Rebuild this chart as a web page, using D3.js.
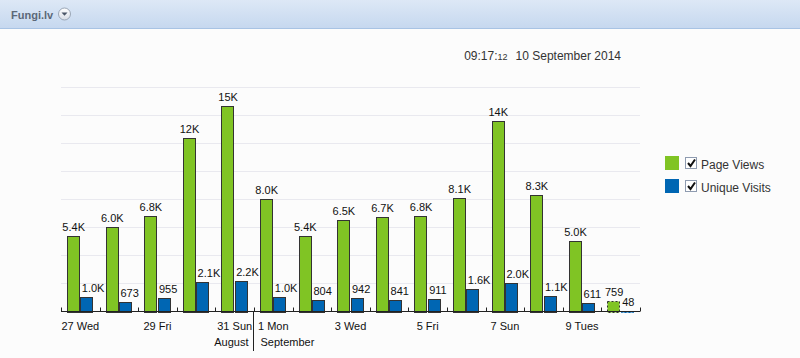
<!DOCTYPE html>
<html>
<head>
<meta charset="utf-8">
<script src="https://cdn.jsdelivr.net/npm/d3@7"></script>
<style>
  html, body { margin: 0; padding: 0; background: #fcfcfc; }
  svg { display: block; font-family: Arial, "Liberation Sans", sans-serif; }
</style>
</head>
<body>
<svg id="chart" width="800" height="358"></svg>
<script>
// ---- data ----
const categories = ["27 Wed","28 Thu","29 Fri","30 Sat","31 Sun","1 Mon","2 Tue","3 Wed","4 Thu","5 Fri","6 Sat","7 Sun","8 Mon","9 Tues","10 Wed"];
const shownLabels = ["27 Wed","29 Fri","31 Sun","1 Mon","3 Wed","5 Fri","7 Sun","9 Tues"];
const pageViews = [5400, 6000, 6800, 12400, 14650, 8000, 5400, 6500, 6700, 6800, 8100, 13550, 8300, 5000, 759];
const uniqueVisits = [1000, 673, 955, 2100, 2200, 1000, 804, 942, 841, 911, 1600, 2000, 1100, 611, 48];
const seriesNames = ["Page Views", "Unique Visits"];
const seriesColors = ["#80c424", "#0066b3"];
const months = ["August", "September"];
const monthSplitAfter = "31 Sun";
const partialDay = "10 Wed";
const yMax = 16000, yStep = 2000;

const svg = d3.select("#chart");

// ---- header ----
const defs = svg.append("defs");
const hg = defs.append("linearGradient").attr("id","hdr").attr("x1",0).attr("y1",0).attr("x2",0).attr("y2",1);
hg.append("stop").attr("offset","0%").attr("stop-color","#dde8f6");
hg.append("stop").attr("offset","100%").attr("stop-color","#c6d8ef");
const cg = defs.append("linearGradient").attr("id","btn").attr("x1",0).attr("y1",0).attr("x2",0).attr("y2",1);
cg.append("stop").attr("offset","0%").attr("stop-color","#ffffff");
cg.append("stop").attr("offset","100%").attr("stop-color","#d8dde6");

svg.append("rect").attr("x",0).attr("y",0).attr("width",800).attr("height",28).attr("fill","url(#hdr)");
svg.append("line").attr("x1",0).attr("x2",800).attr("y1",28.5).attr("y2",28.5).attr("stroke","#a8c3e4");
svg.append("text").attr("x",11).attr("y",18.5).attr("font-size",11).attr("font-weight","bold")
  .attr("fill","#5b6878").text("Fungi.lv");
svg.append("circle").attr("cx",64.5).attr("cy",14).attr("r",6).attr("fill","url(#btn)").attr("stroke","#9aa6b6");
svg.append("path").attr("d","M61.5,12.5 L67.5,12.5 L64.5,15.8 Z").attr("fill","#4a5566");

// ---- title / timestamp ----
const title = svg.append("text").attr("x",621).attr("y",60).attr("text-anchor","end")
  .attr("font-size",12).attr("fill","#333");
title.append("tspan").text("09:17:");
title.append("tspan").attr("font-size",9).text("12");
title.append("tspan").attr("dx",8).text("10 September 2014");

// ---- scales ----
const plot = {left: 61, right: 640, top: 87, bottom: 311.5};
const x = d3.scaleBand().domain(categories).range([plot.left, plot.right]).padding(0);
const x1 = d3.scaleBand().domain(seriesNames).range([0, x.bandwidth()]).paddingInner(0).paddingOuter(0.46);
const y = d3.scaleLinear().domain([0, yMax]).range([plot.bottom, plot.top]);

// gridlines
const gridVals = d3.range(yStep, yMax + 1, yStep);
svg.append("g").selectAll("line").data(gridVals).join("line")
  .attr("x1", plot.left).attr("x2", plot.right)
  .attr("y1", d => Math.round(y(d)) + 0.5).attr("y2", d => Math.round(y(d)) + 0.5)
  .attr("stroke", "#e9e9ef").attr("stroke-width", 1);

// bars
const fmt = v => v < 1000 ? String(v) : (v >= 10000 ? Math.round(v/1000) + "K" : (v/1000).toFixed(1) + "K");
const rows = categories.map((c, i) => ({c, vals: [pageViews[i], uniqueVisits[i]]}));

const gBars = svg.append("g");
rows.forEach(r => {
  const partial = r.c === partialDay;
  r.vals.forEach((v, si) => {
    const bx = x(r.c) + x1(seriesNames[si]);
    const bw = x1.bandwidth();
    const top = y(v);
    gBars.append("rect")
      .attr("x", Math.round(bx) + 0.5).attr("y", Math.round(top) + 0.5)
      .attr("width", Math.round(bw) - 1).attr("height", Math.max(0, Math.round(plot.bottom) - Math.round(top)))
      .attr("fill", seriesColors[si])
      .attr("stroke", partial && si === 1 ? seriesColors[1] : "#333")
      .attr("stroke-width", 1)
      .attr("stroke-dasharray", partial ? "2,2" : null);
    const lbl = gBars.append("text")
      .attr("y", top - 5).attr("font-size", 11).attr("fill", "#111").text(fmt(v));
    if (si === 0) lbl.attr("x", bx + bw / 2).attr("text-anchor", "middle");
    else lbl.attr("x", bx + 1.5).attr("text-anchor", "start");
  });
});

// axis line + ticks
const gAxis = svg.append("g");
gAxis.append("line").attr("x1", plot.left).attr("x2", plot.right)
  .attr("y1", 311.5).attr("y2", 311.5).attr("stroke", "#222");
const tickXs = categories.map(c => x(c)).concat([plot.right]);
gAxis.selectAll("line.tick").data(tickXs).join("line").attr("class","tick")
  .attr("x1", d => Math.round(d) + 0.5).attr("x2", d => Math.round(d) + 0.5)
  .attr("y1", 307.5).attr("y2", 311.5).attr("stroke", "#222");

// day labels
gAxis.selectAll("text.day").data(shownLabels).join("text").attr("class","day")
  .attr("x", d => x(d) + x.bandwidth() / 2).attr("y", 330)
  .attr("text-anchor","middle").attr("font-size", 11).attr("fill", "#111").text(d => d);

// month divider & labels
const splitX = Math.round(x(monthSplitAfter) + x.bandwidth()) - 0.5;
gAxis.append("line").attr("x1", splitX).attr("x2", splitX).attr("y1", 311).attr("y2", 351).attr("stroke", "#222");
gAxis.append("text").attr("x", splitX - 5).attr("y", 346).attr("text-anchor","end")
  .attr("font-size", 11).attr("fill","#111").text(months[0]);
gAxis.append("text").attr("x", splitX + 7).attr("y", 346).attr("text-anchor","start")
  .attr("font-size", 11).attr("fill","#111").text(months[1]);

// legend
const legend = svg.append("g");
seriesNames.forEach((s, i) => {
  const ly = 156 + i * 23;
  legend.append("rect").attr("x", 665).attr("y", ly).attr("width", 14).attr("height", 14).attr("fill", seriesColors[i]);
  legend.append("rect").attr("x", 685.5).attr("y", ly + 1.5).attr("width", 11).attr("height", 11)
    .attr("fill", "#fff").attr("stroke", "#8e9bb0");
  legend.append("path").attr("d", `M688,${ly+7} L690.5,${ly+10} L695,${ly+3.5}`)
    .attr("fill","none").attr("stroke","#111").attr("stroke-width",2);
  legend.append("text").attr("x", 701).attr("y", ly + 13).attr("font-size", 12).attr("fill", "#333").text(s);
});
</script>
</body>
</html>
